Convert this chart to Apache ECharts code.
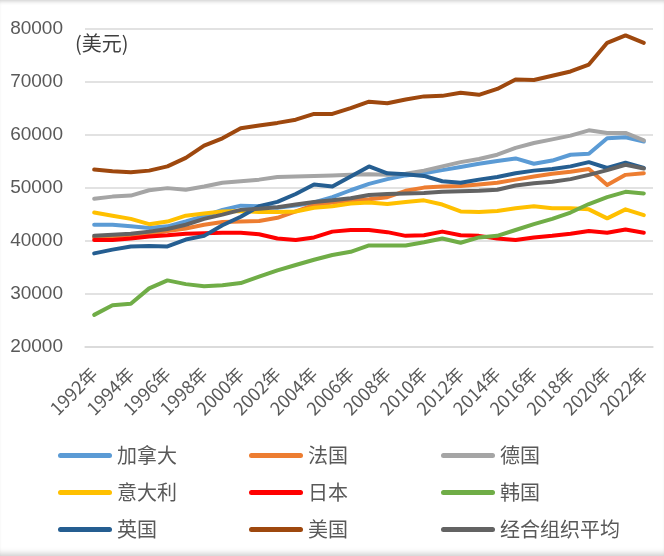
<!DOCTYPE html>
<html>
<head>
<meta charset="utf-8">
<script src="https://cdn.jsdelivr.net/npm/echarts@6/dist/echarts.min.js"></script>
<style>
html,body{margin:0;padding:0;background:#fff;}
#c{width:664px;height:556px;box-shadow: inset 0 4px 4px -3px #c8c8c8, inset 0 -7px 6px -5px #c8c8c8;}
</style>
</head>
<body>
<div id="c"></div>
<script>
var years = ['1992年','1993年','1994年','1995年','1996年','1997年','1998年','1999年','2000年','2001年','2002年','2003年','2004年','2005年','2006年','2007年','2008年','2009年','2010年','2011年','2012年','2013年','2014年','2015年','2016年','2017年','2018年','2019年','2020年','2021年','2022年'];
var canada = [43000,43000,42700,42400,42700,43600,44600,45800,46600,46500,46200,46600,47200,48200,49500,50700,51600,52300,52700,53300,53900,54500,55000,55500,54500,55100,56200,56400,59300,59500,58700];
var france = [40600,40800,41000,41300,41800,42300,43000,43500,43600,43700,44300,45500,46700,47200,47600,47800,48200,49400,50000,50200,50300,50600,50900,51500,52100,52600,53000,53500,50500,52400,52700];
var germany = [47900,48300,48500,49500,49900,49600,50200,50900,51200,51500,52000,52100,52200,52300,52400,52500,52400,52600,53200,54000,54800,55400,56200,57500,58400,59100,59800,60800,60300,60300,58900];
var italy = [45300,44700,44100,43100,43600,44700,45100,45500,45600,45400,45400,45500,46200,46500,47000,47200,46900,47300,47600,46800,45500,45400,45600,46100,46500,46100,46100,45900,44200,45900,44800];
var japan = [40100,40100,40400,40800,41000,41300,41400,41500,41500,41200,40400,40100,40600,41700,42000,42000,41600,40900,41000,41700,41000,40900,40400,40100,40600,40900,41300,41800,41500,42100,41500];
var korea = [26000,27800,28100,31000,32500,31800,31400,31600,32000,33200,34400,35400,36400,37300,37900,39100,39100,39100,39700,40400,39600,40600,40900,42000,43100,44100,45300,46900,48200,49200,48900];
var uk = [37600,38300,38900,39000,38900,40200,40900,42900,44500,46500,47300,48800,50600,50200,52100,54000,52700,52500,52200,51200,50900,51500,52000,52700,53200,53500,54000,54800,53700,54700,53700];
var usa = [53400,53100,52900,53200,54000,55600,57900,59300,61200,61700,62200,62800,63900,63900,65000,66200,65900,66600,67200,67300,67900,67500,68600,70400,70300,71100,71900,73200,77300,78700,77300];
var oecd = [40900,41100,41300,41700,42200,43000,44100,44900,45800,46000,46300,46800,47300,47600,48000,48600,48800,48900,49000,49200,49300,49400,49600,50400,50800,51100,51600,52400,53300,54300,53600];

var names = ['加拿大','法国','德国','意大利','日本','韩国','英国','美国','经合组织平均'];
var colors = ['#5B9BD5','#ED7D31','#A5A5A5','#FFC000','#FF0000','#70AD47','#255E91','#9E480E','#636363'];
var datas = [canada,france,germany,italy,japan,korea,uk,usa,oecd];

var series = names.map(function(n,i){
  return {
    name:n, type:'line', data:datas[i], symbol:'none', smooth:false,
    lineStyle:{color:colors[i], width:4, cap:'round', join:'round'},
    itemStyle:{color:colors[i]}
  };
});

var lineIcon = 'path://M2.5,0 L51.5,0 A2.5,2.5 0 0 1 51.5,5 L2.5,5 A2.5,2.5 0 0 1 2.5,0 Z';

function mkLegend(left, items){
  return {
    orient:'vertical', left:left, top:445, padding:0,
    icon:lineIcon,
    itemWidth:54, itemHeight:5, itemGap:16,
    data:items,
    textStyle:{fontSize:20, lineHeight:21, color:'#595959', fontFamily:'"Noto Sans CJK SC", sans-serif'}
  };
}

var chart = echarts.init(document.getElementById('c'));
chart.setOption({
  animation:false,
  color:colors,
  title:{text:'(美元)', left:70, top:28, textStyle:{fontSize:20, fontWeight:'normal', color:'#404040', fontFamily:'"Noto Sans CJK SC", sans-serif'}},
  grid:{left:85, right:11, top:28.5, bottom:209.3, containLabel:false},
  legend:[
    mkLegend(58, ['加拿大','意大利','英国']),
    mkLegend(249, ['法国','日本','美国']),
    mkLegend(441, ['德国','韩国','经合组织平均'])
  ],
  xAxis:{
    type:'category', data:years, boundaryGap:true,
    axisLine:{show:true, lineStyle:{color:'#d9d9d9', width:1.5}},
    axisTick:{show:false},
    axisLabel:{interval:1, rotate:45, fontSize:18, color:'#595959', margin:24, fontFamily:'"Noto Sans CJK SC", sans-serif'}
  },
  yAxis:{
    type:'value', min:20000, max:80000, interval:10000,
    axisLine:{show:false}, axisTick:{show:false},
    splitLine:{lineStyle:{color:'#d9d9d9', width:1.5}},
    axisLabel:{fontSize:19, color:'#595959', margin:22, formatter:function(v){return String(v);}, fontFamily:'"Liberation Sans", sans-serif'}
  },
  series:series
});
</script>
</body>
</html>
